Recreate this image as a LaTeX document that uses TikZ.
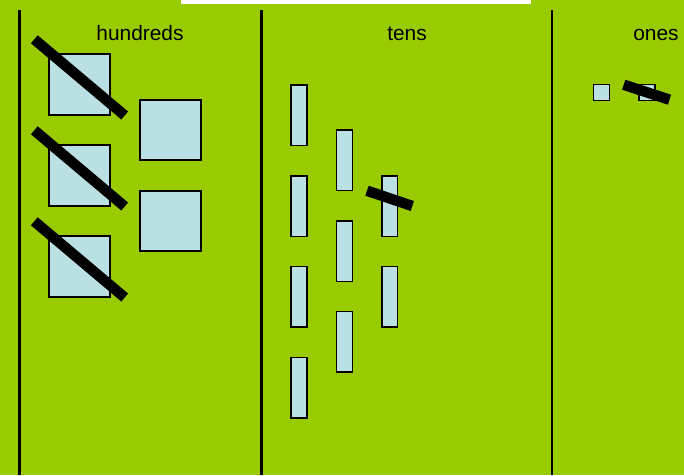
\documentclass[tikz,border=0pt]{standalone}
\usepackage{fontspec}
\setmainfont{Liberation Sans}
\definecolor{bggreen}{HTML}{99CC00}
\definecolor{tile}{HTML}{BBE0E3}
\begin{document}
\begin{tikzpicture}[x=1pt,y=-1pt,
  tilebox/.style={draw=black,fill=tile,line width=1.5pt},
  divider/.style={draw=black,line width=2.5pt},
  strike/.style={draw=black,line width=10.5pt,line cap=butt},
  head/.style={anchor=base,font=\fontsize{20.9}{24}\selectfont}]
\useasboundingbox (0,0) rectangle (684,475);
\fill[bggreen] (0,0) rectangle (684,475);
\fill[white] (181,0) rectangle (531,4);
% dividers
\draw[divider] (19.5,10) -- (19.5,475);
\draw[divider] (261.5,10) -- (261.5,475);
\draw[divider] (552,10) -- (552,475);
% labels
\node[head] (lh) at (140,40) {hundreds};
\node[head] (lt) at (407,40) {tens};
\node[head] (lo) at (656,40) {ones};
% hundreds
\draw[tilebox] (49,54) rectangle (110,115);
\draw[tilebox] (49,145) rectangle (110,206);
\draw[tilebox] (49,236) rectangle (110,297);
\draw[tilebox] (140,100) rectangle (201,160);
\draw[tilebox] (140,191) rectangle (201,251);
\draw[strike] (34.3,39.3) -- (124.7,115.5);
\draw[strike] (34.3,130.3) -- (124.7,206.5);
\draw[strike] (34.3,221.3) -- (124.7,297.5);
% tens
\foreach \y in {85,176,266.5,357.5} \draw[tilebox] (291,\y) rectangle (307,\y+60.5);
\foreach \y in {130,221,311.5} \draw[tilebox] (336.7,\y) rectangle (352.3,\y+60.5);
\foreach \y in {176,266.5} \draw[tilebox] (382,\y) rectangle (397.7,\y+60.5);
\draw[strike] (367,190.7) -- (412.3,206);
% ones
\draw[tilebox] (593.7,84.5) rectangle (609.7,100.5);
\draw[tilebox] (639,84.5) rectangle (655,100.5);
\draw[strike] (623.7,84.7) -- (669.5,99.7);
\end{tikzpicture}
\end{document}
